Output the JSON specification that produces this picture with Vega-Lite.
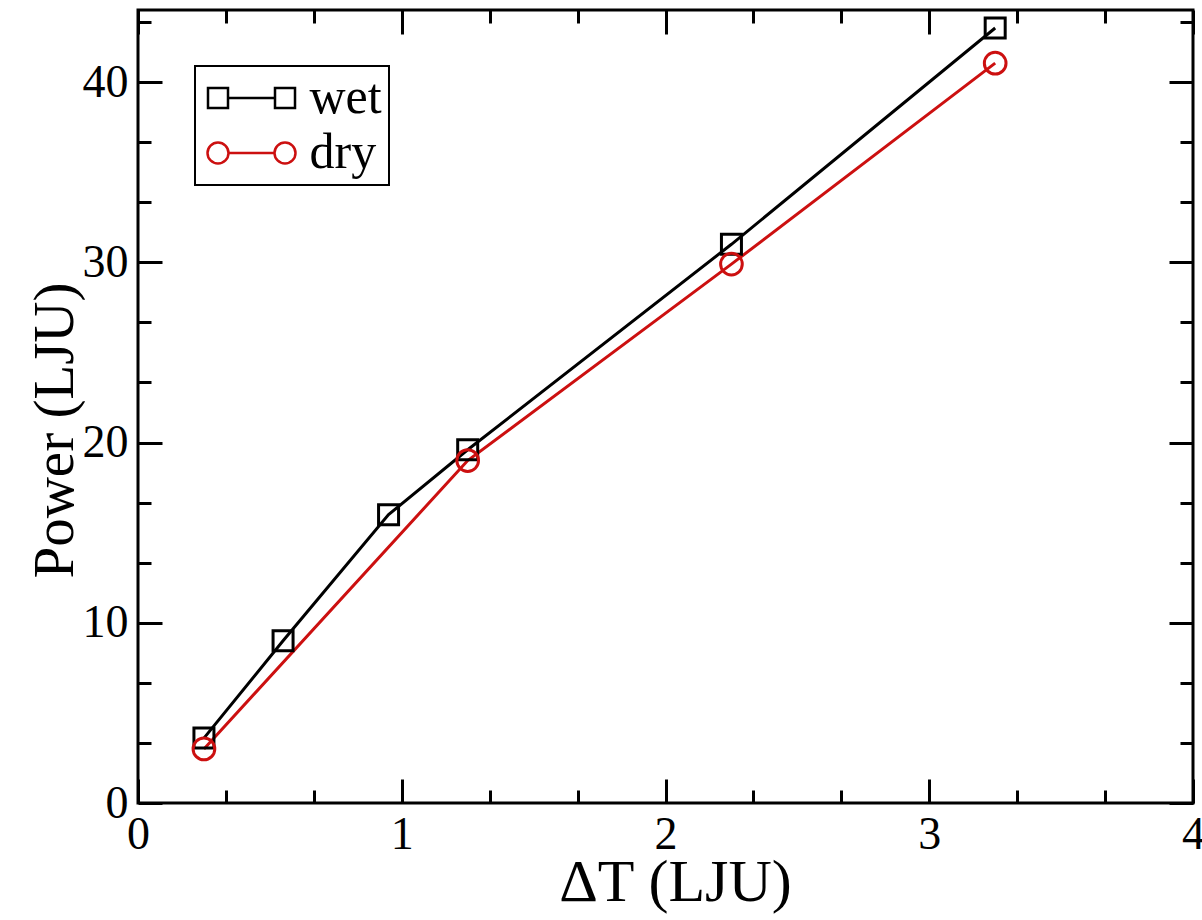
{
  "$schema": "https://vega.github.io/schema/vega-lite/v6.json",
  "width": 1055,
  "height": 793,
  "autosize": "none",
  "padding": {"left": 138, "top": 10, "right": 9, "bottom": 117},
  "background": "white",
  "config": {
    "view": {"stroke": "black", "strokeWidth": 3},
    "font": "Liberation Serif",
    "axis": {
      "domain": false,
      "grid": false,
      "tickColor": "black",
      "tickWidth": 3,
      "labelColor": "black",
      "titleColor": "black",
      "labelFont": "Liberation Serif",
      "titleFont": "Liberation Serif",
      "titleFontWeight": "normal",
      "labelFontSize": 46
    }
  },
  "data": {
    "values": [
      {"series": "wet", "dT": 0.25, "P": 3.6},
      {"series": "wet", "dT": 0.55, "P": 9.0},
      {"series": "wet", "dT": 0.95, "P": 16.0},
      {"series": "wet", "dT": 1.25, "P": 19.6},
      {"series": "wet", "dT": 2.25, "P": 31.0},
      {"series": "wet", "dT": 3.25, "P": 43.0},
      {"series": "dry", "dT": 0.25, "P": 3.0},
      {"series": "dry", "dT": 1.25, "P": 19.0},
      {"series": "dry", "dT": 2.25, "P": 29.9},
      {"series": "dry", "dT": 3.25, "P": 41.05}
    ]
  },
  "layer": [
    {
      "mark": {"type": "line", "strokeWidth": 3},
      "encoding": {
        "x": {
          "field": "dT", "type": "quantitative",
          "scale": {"domain": [0, 4], "nice": false, "zero": false},
          "axis": {
            "orient": "bottom",
            "values": [0, 0.333333, 0.666667, 1, 1.333333, 1.666667, 2, 2.333333, 2.666667, 3, 3.333333, 3.666667, 4],
            "tickSize": {"condition": {"test": "datum.value % 1 === 0", "value": -24}, "value": -13},
            "labelExpr": "datum.value % 1 === 0 ? format(datum.value, 'd') : ''",
            "labelPadding": 33,
            "labelFlush": false,
            "labelOverlap": false,
            "title": "ΔT (LJU)",
            "titleFontSize": 60,
            "titleX": 537,
            "titleY": 97,
            "titleBaseline": "alphabetic",
            "titleAlign": "center"
          }
        },
        "y": {
          "field": "P", "type": "quantitative",
          "scale": {"domain": [0, 44], "nice": false, "zero": false},
          "axis": {
            "orient": "left",
            "values": [0, 3.333333, 6.666667, 10, 13.333333, 16.666667, 20, 23.333333, 26.666667, 30, 33.333333, 36.666667, 40, 43.333333],
            "tickSize": {"condition": {"test": "datum.value % 10 === 0", "value": -24}, "value": -13},
            "labelExpr": "datum.value % 10 === 0 ? format(datum.value, 'd') : ''",
            "labelPadding": 34,
            "labelFlush": false,
            "labelOverlap": false,
            "title": "Power (LJU)",
            "titleFontSize": 57,
            "titleX": -66,
            "titleY": 420,
            "titleAngle": -90,
            "titleBaseline": "alphabetic",
            "titleAlign": "center"
          }
        },
        "color": {
          "field": "series", "type": "nominal",
          "scale": {"domain": ["wet", "dry"], "range": ["black", "#cc1010"]},
          "legend": {
            "title": null,
            "orient": "none",
            "legendX": 57,
            "legendY": 56,
            "direction": "vertical",
            "padding": 7,
            "rowPadding": 5,
            "labelFontSize": 50,
            "labelFont": "Liberation Serif",
            "labelColor": "black",
            "symbolSize": 400,
            "symbolStrokeWidth": 2.5,
            "symbolOffset": 24.5,
            "labelOffset": 33,
            "strokeColor": "black",
            "encode": {
              "symbols": {
                "update": {
                  "shape": {"signal": "datum.value === 'wet' ? 'M-4.35,-1L-2.35,-1L-2.35,1L-4.35,1ZM-2.35,0L2.35,0M2.35,-1L4.35,-1L4.35,1L2.35,1Z' : 'M-2.3,0A1.05,1.05,0,1,1,-4.4,0A1.05,1.05,0,1,1,-2.3,0ZM-2.3,0L2.3,0M4.4,0A1.05,1.05,0,1,1,2.3,0A1.05,1.05,0,1,1,4.4,0Z'"},
                  "fill": {"value": "transparent"},
                  "size": {"value": 400},
                  "strokeWidth": {"value": 2.5}
                }
              },
              "legend": {
                "update": {"strokeWidth": {"value": 2}}
              }
            }
          }
        }
      }
    },
    {
      "transform": [{"filter": "datum.series === 'wet'"}],
      "mark": {"type": "point", "shape": "square", "filled": false, "strokeWidth": 3, "size": 400, "opacity": 1, "color": "black"},
      "encoding": {
        "x": {
          "field": "dT", "type": "quantitative",
          "axis": {
            "orient": "top",
            "values": [0, 0.333333, 0.666667, 1, 1.333333, 1.666667, 2, 2.333333, 2.666667, 3, 3.333333, 3.666667, 4],
            "tickSize": {"condition": {"test": "datum.value % 1 === 0", "value": -24}, "value": -13},
            "labels": false,
            "title": null
          }
        },
        "y": {
          "field": "P", "type": "quantitative",
          "axis": {
            "orient": "right",
            "values": [0, 3.333333, 6.666667, 10, 13.333333, 16.666667, 20, 23.333333, 26.666667, 30, 33.333333, 36.666667, 40, 43.333333],
            "tickSize": {"condition": {"test": "datum.value % 10 === 0", "value": -24}, "value": -13},
            "labels": false,
            "title": null
          }
        }
      }
    },
    {
      "transform": [{"filter": "datum.series === 'dry'"}],
      "mark": {"type": "point", "shape": "circle", "filled": false, "strokeWidth": 3, "size": 470, "opacity": 1, "color": "#cc1010"},
      "encoding": {
        "x": {"field": "dT", "type": "quantitative", "axis": null},
        "y": {"field": "P", "type": "quantitative", "axis": null}
      }
    }
  ],
  "resolve": {"axis": {"x": "independent", "y": "independent"}}
}
